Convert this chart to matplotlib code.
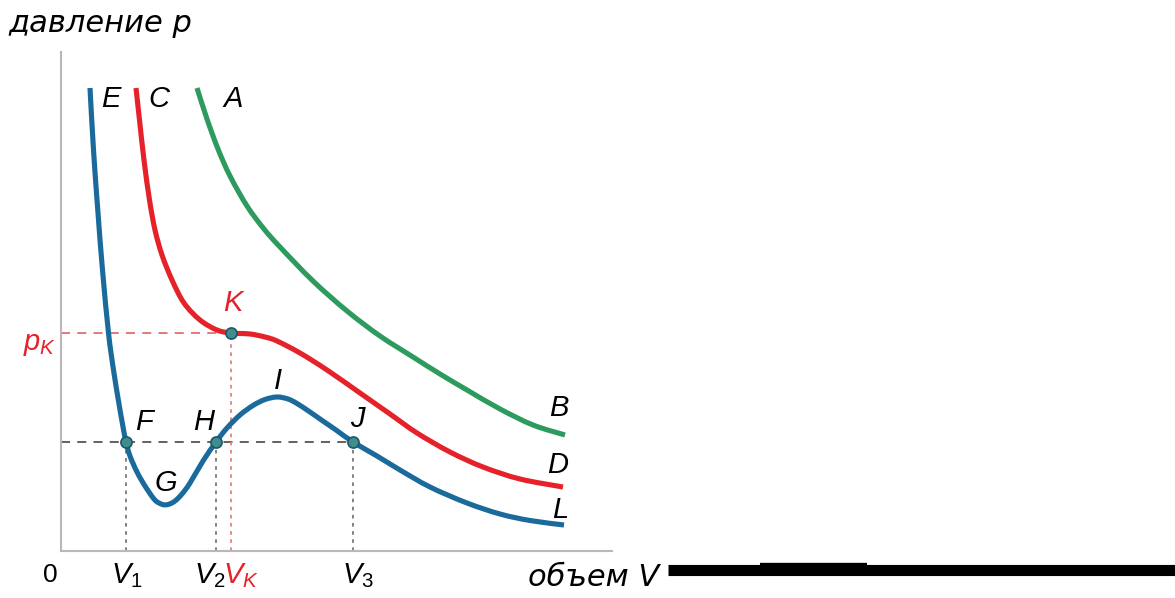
#!/usr/bin/env python3
"""Van der Waals style isotherms: p(V) with critical point K."""
import matplotlib
matplotlib.use('Agg')
import matplotlib.pyplot as plt
from matplotlib.lines import Line2D
from matplotlib.path import Path
from matplotlib.patches import PathPatch

#-------------------------------------------------------------------------#
# Data (arbitrary units)                             #
#-------------------------------------------------------------------------#
blue_V = [29, 32.5, 37, 41.5, 47.5, 52.5, 58, 61.5, 65, 69, 76, 84, 93, 98,
          103, 108, 114, 121, 129, 142, 155, 166, 179, 192, 204, 216, 227,
          236, 249, 259, 275, 292, 316, 339, 369, 406, 439, 469, 503]
blue_p = [463, 401, 338, 281, 218, 181, 147, 127, 109, 95, 79, 65, 52, 48,
          46.2, 46.8, 50, 57, 68, 90, 109, 123, 136, 145.5, 151.5, 154, 152,
          147.5, 139, 132, 121, 109, 95, 81, 64, 48, 37, 30.5, 26]

red_V = [75, 78.5, 83, 88.5, 94, 101, 111, 123, 139, 156, 170, 189, 204, 216,
         239, 266, 299, 329, 356, 389, 422, 459, 502]
red_p = [463, 431, 391, 351, 321, 296, 271, 248, 231, 221, 218, 217, 214,
         210, 198, 181, 158, 137, 118, 99, 84, 72, 64]

green_V = [136, 146, 157, 169, 186, 203, 219, 252, 286, 319, 352, 379, 406,
           439, 472, 504]
green_p = [463, 432, 402, 375, 345, 322, 304, 270, 240, 215, 194, 177, 161,
           142, 126, 116]

# marked points
pt_V     = [65, 155, 292]           # F, H, J
pt_p     = [109, 109, 109]
K_V, K_p = 170, 218

#-------------------------------------------------------------------------#
# Smooth curve through the read points (Catmull-Rom as cubic Bezier)      #
#-------------------------------------------------------------------------#
def smooth_path(xs, ys):

    """ Bezier path passing through every point """
    pts   = list(zip(xs, ys))
    verts = [pts[0]]
    codes = [Path.MOVETO]
    n     = len(pts)
    for i in range(n - 1):
        p0 = pts[max(i - 1, 0)]
        p1 = pts[i]
        p2 = pts[i + 1]
        p3 = pts[min(i + 2, n - 1)]
        c1 = (p1[0] + (p2[0] - p0[0])/6.0, p1[1] + (p2[1] - p0[1])/6.0)
        c2 = (p2[0] - (p3[0] - p1[0])/6.0, p2[1] - (p3[1] - p1[1])/6.0)
        verts += [c1, c2, p2]
        codes += [Path.CURVE4]*3
    return Path(verts, codes)

#-------------------------------------------------------------------------#
# Styles                                                                  #
#-------------------------------------------------------------------------#
BLUE  = '#1a6a9c'
RED   = '#e52229'
GREEN = '#2e9b5e'
LAB   = dict(family='Liberation Sans', style='italic', fontsize=21,
             ha='center', va='center', clip_on=False)
plt.rcParams['mathtext.fontset'] = 'custom'
plt.rcParams['mathtext.it'] = 'Liberation Sans:italic'
plt.rcParams['mathtext.rm'] = 'Liberation Sans'

fig = plt.figure(figsize=(11.75, 5.98), dpi=100)
ax = fig.add_axes([61/1175, 47/598, 551/1175, 499/598])
ax.set_xlim(0, 551)
ax.set_ylim(0, 499)
for s in ['top', 'right']:
    ax.spines[s].set_visible(False)
for s in ['left', 'bottom']:
    ax.spines[s].set_color('#b8b8b8')
    ax.spines[s].set_linewidth(1.5)
ax.set_xticks([])
ax.set_yticks([])

#-------------------------------------------------------------------------#
# Guide lines                                                             #
#-------------------------------------------------------------------------#
ax.plot([0, pt_V[-1]], [pt_p[-1], pt_p[-1]], color='#555555', lw=1.3,
        dashes=(5, 4), zorder=1)
ax.plot([0, K_V], [K_p, K_p], color='#e07070', lw=1.3, dashes=(5, 4),
        zorder=1)
for v, p in zip(pt_V, pt_p):
    ax.plot([v, v], [0, p], color='#777777', lw=1.3, dashes=(2, 2.5),
            zorder=1)
ax.plot([K_V, K_V], [0, K_p], color='#e08080', lw=1.3, dashes=(2, 2.5),
        zorder=1)

#-------------------------------------------------------------------------#
# Isotherms                                                               #
#-------------------------------------------------------------------------#
for xs, ys, col in [(green_V, green_p, GREEN), (red_V, red_p, RED),
                    (blue_V, blue_p, BLUE)]:
    ax.add_patch(PathPatch(smooth_path(xs, ys), fill=False, edgecolor=col,
                           lw=3.7, capstyle='butt', joinstyle='round',
                           zorder=2))

ax.plot(pt_V + [K_V], pt_p + [K_p], 'o', ms=8, mfc='#3f8d8e',
        mec='#1d5766', mew=1.2, zorder=3)

#-------------------------------------------------------------------------#
# Labels                                                                  #
#-------------------------------------------------------------------------#
ax.text(50, 452, 'E', **LAB)
ax.text(98, 452, 'C', **LAB)
ax.text(172, 452, 'A', **LAB)
ax.text(172, 248, 'K', color=RED, **LAB)
ax.text(83, 129, 'F', **LAB)
ax.text(143, 129, 'H', **LAB)
ax.text(105, 68, 'G', **LAB)
ax.text(217, 170, 'I', **LAB)
ax.text(296, 132, 'J', **LAB)
ax.text(498, 143, 'B', **LAB)
ax.text(497, 86, 'D', **LAB)
ax.text(499, 41, 'L', **LAB)
ax.text(-21, 207, r'$p_K$', color=RED, **LAB)

ax.text(-11, -24, '0', family='Liberation Sans', fontsize=19, ha='center',
        va='center', clip_on=False)
ax.text(66, -25, r'$V_1$', **LAB)
ax.text(149, -25, r'$V_2$', **LAB)
ax.text(180, -25, r'$V_K$', color=RED, **LAB)
ax.text(297, -25, r'$V_3$', **LAB)

fig.text(528/1175, 1 - 578/598, 'объем V', family='DejaVu Sans',
         style='italic', fontsize=22, ha='left', va='center')
fig.text(8/1175, 1 - 24/598, 'давление p', family='DejaVu Sans',
         style='italic', fontsize=22, ha='left', va='center')

# thick black bar to the right of the V label
fig.add_artist(Line2D([668/1175, 1.0], [1 - 570/598, 1 - 570/598],
                      transform=fig.transFigure, color='black', lw=8,
                      solid_capstyle='butt'))
fig.add_artist(Line2D([760/1175, 867/1175], [1 - 567/598, 1 - 567/598],
                      transform=fig.transFigure, color='black', lw=6,
                      solid_capstyle='butt'))

fig.savefig('out.png', dpi=100, facecolor='white')
